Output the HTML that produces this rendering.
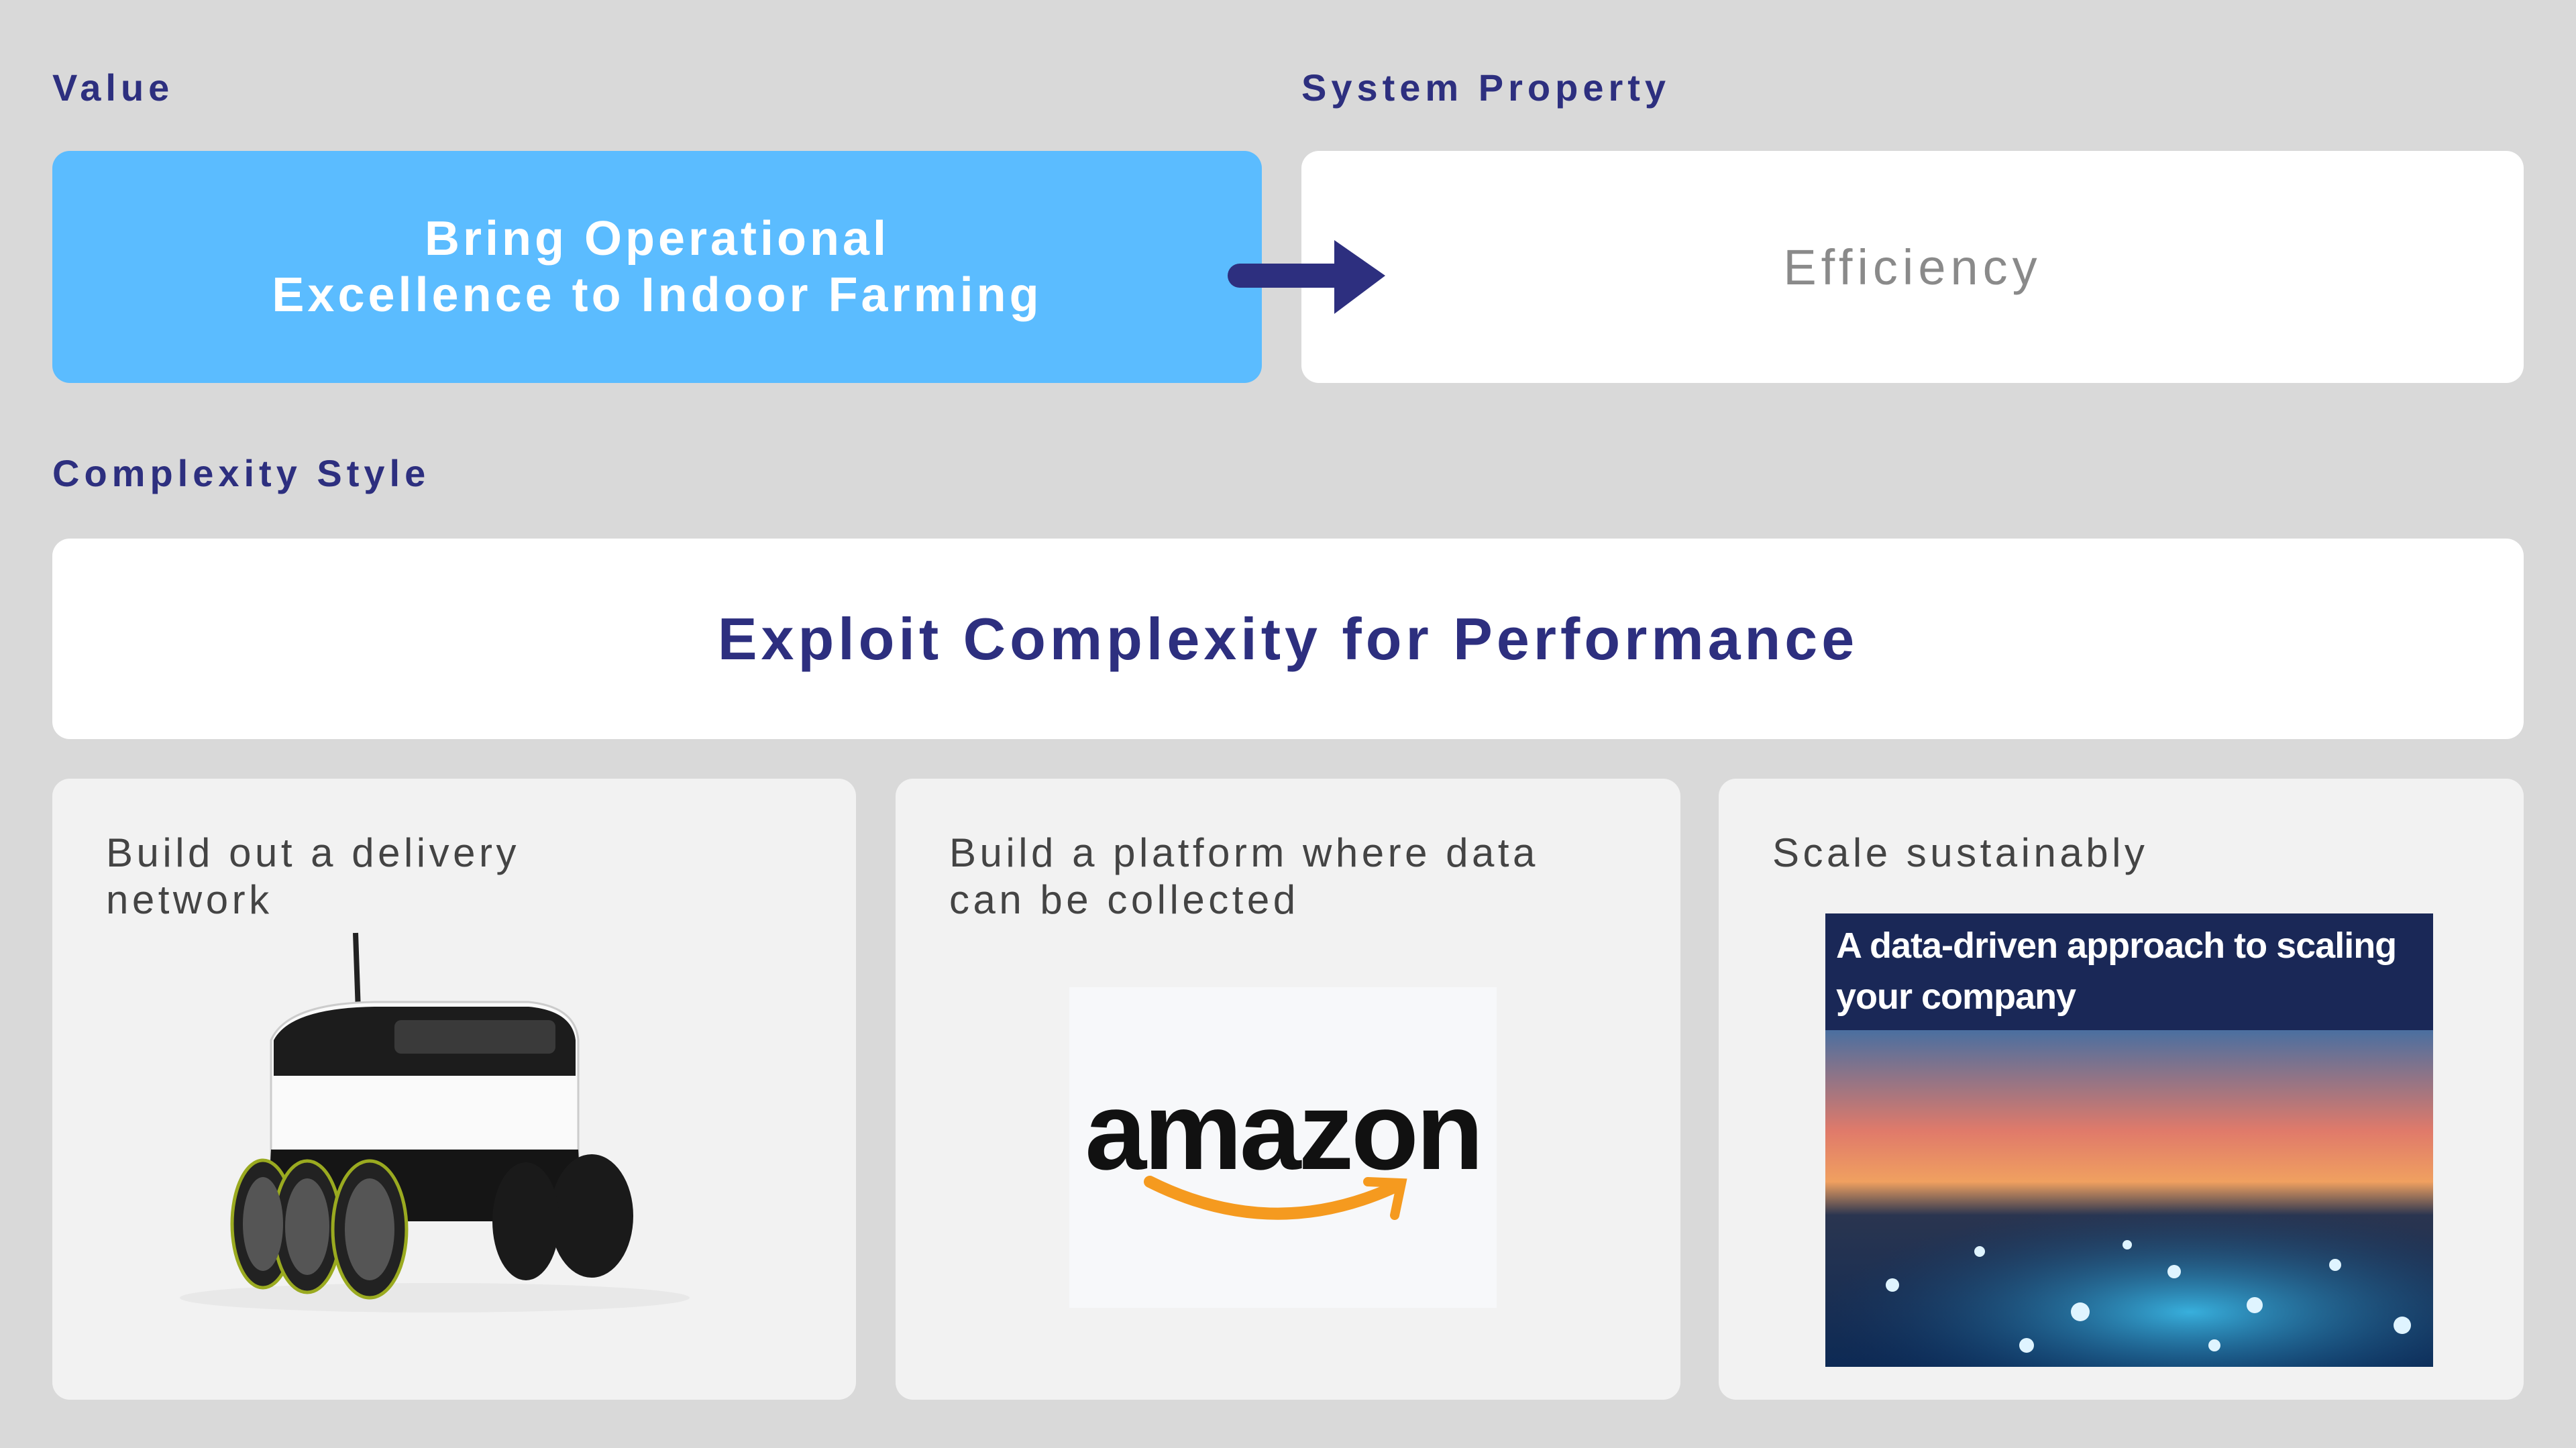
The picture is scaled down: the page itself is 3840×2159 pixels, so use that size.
<!DOCTYPE html>
<html><head><meta charset="utf-8"><style>
*{margin:0;padding:0;box-sizing:border-box}
body{width:3840px;height:2159px;background:#d9d9d9;position:relative;overflow:hidden;font-family:"Liberation Sans",sans-serif}
.lbl{position:absolute;font-size:56px;font-weight:700;color:#2d2f7f;letter-spacing:7px}
.box{position:absolute;border-radius:26px}
.card{position:absolute;background:#f2f2f2;border-radius:26px;top:1161px;height:926px}
.ct{position:absolute;left:80px;top:76px;font-size:60px;color:#444;line-height:70px;letter-spacing:5.5px;white-space:nowrap}
</style></head><body>
<div class="lbl" style="left:78px;top:98px">Value</div>
<div class="lbl" style="left:1940px;top:98px">System Property</div>
<div class="lbl" style="left:78px;top:673px">Complexity Style</div>

<div class="box" style="left:78px;top:225px;width:1803px;height:346px;background:#5bbcff;display:flex;align-items:center;justify-content:center;text-align:center;color:#fff;font-size:72px;font-weight:700;line-height:84px;letter-spacing:5px">Bring Operational<br>Excellence to Indoor Farming</div>

<div class="box" style="left:1940px;top:225px;width:1822px;height:346px;background:#fff;display:flex;align-items:center;justify-content:center;color:#8a8a8a;font-size:74px;letter-spacing:7px">Efficiency</div>

<svg style="position:absolute;left:1830px;top:350px" width="250" height="130">
<line x1="18" y1="61" x2="170" y2="61" stroke="#2d2f7f" stroke-width="36" stroke-linecap="round"/>
<polygon points="159,8 235,61 159,118" fill="#2d2f7f"/>
</svg>

<div class="box" style="left:78px;top:803px;width:3684px;height:299px;background:#fff;display:flex;align-items:center;justify-content:center;color:#2d2f7f;font-size:88px;font-weight:700;letter-spacing:6px">Exploit Complexity for Performance</div>

<div class="card" style="left:78px;width:1198px">
<div class="ct">Build out a delivery<br>network</div>
<svg style="position:absolute;left:150px;top:220px" width="900" height="600">
<ellipse cx="420" cy="554" rx="380" ry="22" fill="#e8e8e8"/>
<line x1="302" y1="10" x2="308" y2="186" stroke="#222" stroke-width="8"/>
<path d="M176 170 Q200 115 330 113 L560 113 Q630 120 634 170 L634 390 Q634 420 600 420 L210 420 Q176 420 176 390 Z" fill="#fafafa" stroke="#ccc" stroke-width="3"/>
<path d="M180 170 Q205 122 330 120 L560 120 Q625 126 630 170 L630 223 L180 223 Z" fill="#1c1c1c"/>
<rect x="360" y="140" width="240" height="50" rx="10" fill="#3a3a3a"/>
<path d="M176 333 L634 333 L640 440 L170 440 Z" fill="#151515"/>
<ellipse cx="654" cy="432" rx="62" ry="92" fill="#1a1a1a"/>
<ellipse cx="556" cy="440" rx="50" ry="88" fill="#1a1a1a"/>
<g fill="#222" stroke="#9aaa20" stroke-width="5">
<ellipse cx="164" cy="444" rx="46" ry="95"/><ellipse cx="230" cy="448" rx="50" ry="98"/><ellipse cx="323" cy="452" rx="55" ry="102"/>
</g>
<g fill="#555"><ellipse cx="164" cy="444" rx="30" ry="70"/><ellipse cx="230" cy="448" rx="33" ry="72"/><ellipse cx="323" cy="452" rx="37" ry="76"/></g>
</svg>
</div>

<div class="card" style="left:1335px;width:1170px">
<div class="ct">Build a platform where data<br>can be collected</div>
<div style="position:absolute;left:259px;top:311px;width:637px;height:478px;background:#f7f8fa">
<div style="position:absolute;left:0;width:100%;top:120px;text-align:center;font-size:165px;font-weight:700;color:#111;letter-spacing:-4px">amazon</div>
<svg style="position:absolute;left:100px;top:270px" width="450" height="120">
<path d="M20 20 Q200 110 380 30" fill="none" stroke="#f59a1f" stroke-width="18" stroke-linecap="round"/>
<path d="M345 20 L395 22 L385 70" fill="none" stroke="#f59a1f" stroke-width="14" stroke-linecap="round"/>
</svg>
</div>
</div>

<div class="card" style="left:2562px;width:1200px">
<div class="ct">Scale sustainably</div>
<div style="position:absolute;left:159px;top:201px;width:906px;height:676px;overflow:hidden">
<div style="height:174px;background:#1a2857;color:#fff;font-size:54px;font-weight:700;line-height:76px;padding:10px 16px;letter-spacing:-1px">A data-driven approach to scaling<br>your company</div>
<svg width="906" height="502" style="display:block">
<defs><linearGradient id="s" x1="0" y1="0" x2="0" y2="1">
<stop offset="0" stop-color="#4a6fa0"/><stop offset="0.3" stop-color="#e07a6a"/><stop offset="0.45" stop-color="#f0a060"/><stop offset="0.55" stop-color="#2a3550"/><stop offset="1" stop-color="#0d2a55"/></linearGradient>
<radialGradient id="g" cx="0.6" cy="0.7" r="0.6"><stop offset="0" stop-color="#40d0ff" stop-opacity="0.8"/><stop offset="1" stop-color="#0a3a70" stop-opacity="0"/></radialGradient></defs>
<rect width="906" height="502" fill="url(#s)"/>
<rect y="230" width="906" height="272" fill="url(#g)"/>
<g fill="#dff4ff">
<circle cx="100" cy="380" r="10"/><circle cx="230" cy="330" r="8"/><circle cx="380" cy="420" r="14"/><circle cx="520" cy="360" r="10"/><circle cx="640" cy="410" r="12"/><circle cx="760" cy="350" r="9"/><circle cx="860" cy="440" r="13"/><circle cx="300" cy="470" r="11"/><circle cx="580" cy="470" r="9"/><circle cx="450" cy="320" r="7"/>
</g>
</svg>
</div>
</div>
</body></html>
